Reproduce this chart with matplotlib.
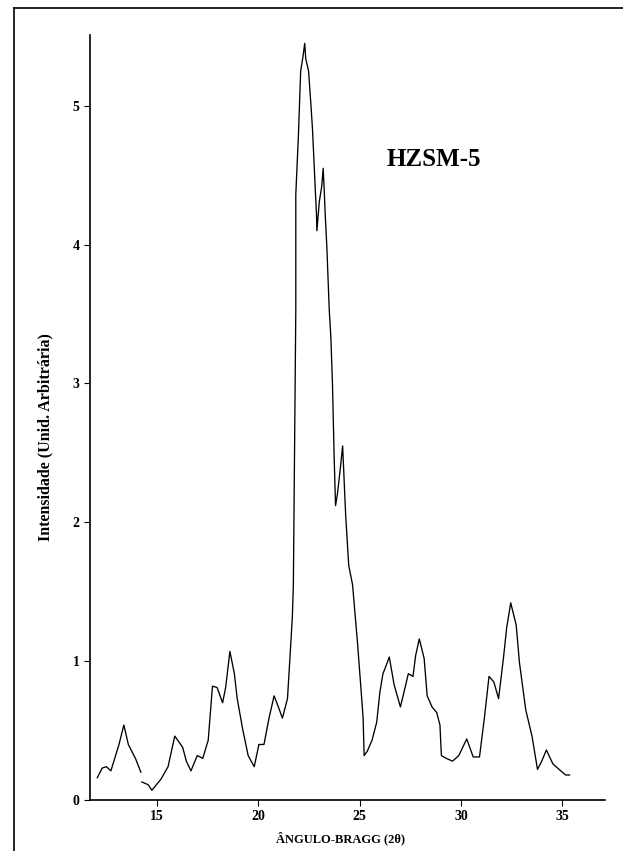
#XRD pattern of HZSM-5 zeolite

import numpy as np
import matplotlib
matplotlib.use("Agg")
import matplotlib.pyplot as plt
from matplotlib.lines import Line2D

plt.rcParams["font.family"] = ["Liberation Serif", "DejaVu Serif"]
plt.rcParams["font.weight"] = "bold"

#Diffractogram (nan = gap in the trace)
two_theta = [
    12.06, 12.30, 12.51, 12.73, 13.13, 13.37, 13.59, 13.94, 14.21, 14.23,
    14.26, 14.57, 14.75, 15.20, 15.55, 15.88, 16.27, 16.45, 16.68, 16.99,
    17.26, 17.53, 17.74, 17.97, 18.24, 18.39, 18.60, 18.82, 18.96, 19.23,
    19.50, 19.80, 20.03, 20.28, 20.53, 20.78, 20.94, 21.19, 21.44, 21.60,
    21.68, 21.73, 21.85, 21.85, 21.98, 22.09, 22.21, 22.29, 22.34, 22.48,
    22.59, 22.67, 22.76, 22.81, 22.87, 22.89, 23.01, 23.13, 23.20, 23.25,
    23.30, 23.38, 23.45, 23.50, 23.58, 23.66, 23.74, 23.81, 23.90, 24.04,
    24.16, 24.31, 24.46, 24.65, 24.90, 25.06, 25.17, 25.22, 25.37, 25.61,
    25.84, 26.00, 26.15, 26.31, 26.46, 26.70, 27.01, 27.24, 27.40, 27.63,
    27.76, 27.94, 28.18, 28.33, 28.57, 28.80, 28.96, 29.03, 29.27, 29.58,
    29.89, 30.28, 30.60, 30.91, 31.15, 31.38, 31.62, 31.85, 32.09, 32.25,
    32.45, 32.72, 32.88, 33.19, 33.50, 33.77, 33.98, 34.21, 34.53, 34.84,
    35.16, 35.35,
]
intensity = [
    0.16, 0.23, 0.24, 0.21, 0.40, 0.54, 0.40, 0.30, 0.20, np.nan,
    0.13, 0.11, 0.07, 0.15, 0.24, 0.46, 0.38, 0.28, 0.21, 0.32,
    0.30, 0.43, 0.82, 0.81, 0.70, 0.81, 1.07, 0.91, 0.73, 0.51,
    0.32, 0.24, 0.40, 0.40, 0.59, 0.75, 0.69, 0.59, 0.73, 1.12,
    1.32, 1.55, 3.53, 4.36, 4.79, 5.25, 5.36, 5.45, 5.34, 5.25,
    5.02, 4.84, 4.56, 4.40, 4.22, 4.10, 4.31, 4.42, 4.55, 4.40,
    4.22, 3.99, 3.72, 3.53, 3.33, 2.99, 2.48, 2.12, 2.20, 2.38,
    2.55, 2.05, 1.69, 1.55, 1.12, 0.81, 0.59, 0.32, 0.35, 0.43,
    0.56, 0.78, 0.91, 0.97, 1.03, 0.83, 0.67, 0.81, 0.91, 0.89,
    1.04, 1.16, 1.02, 0.75, 0.67, 0.63, 0.54, 0.32, 0.30, 0.28,
    0.32, 0.44, 0.31, 0.31, 0.59, 0.89, 0.85, 0.73, 1.02, 1.24,
    1.42, 1.26, 0.99, 0.65, 0.46, 0.22, 0.28, 0.36, 0.26, 0.22,
    0.18, 0.18,
]

x_ticks = [15, 20, 25, 30, 35]
y_ticks = [0, 1, 2, 3, 4, 5]

fig = plt.figure(figsize=(6.23, 8.51), dpi=100)
ax = fig.add_axes([90 / 623, 1 - 800 / 851, 515 / 623, 765 / 851])

ax.plot(two_theta, intensity, color="black", linewidth=0.95)

ax.set_xlim(11.7, 37.1)
ax.set_ylim(0, 5.51)
ax.set_xticks(x_ticks)
ax.set_yticks(y_ticks)
ax.tick_params(direction="out", length=4.5, width=0.8, labelsize=10, pad=3)
for lab in ax.get_xticklabels() + ax.get_yticklabels():
    lab.set_fontweight("bold")

ax.spines["top"].set_visible(False)
ax.spines["right"].set_visible(False)
ax.spines["left"].set_linewidth(1.2)
ax.spines["bottom"].set_linewidth(1.2)

fig.text(434 / 623, 1 - 160 / 851, "HZSM-5", fontsize=18, fontweight="bold",
         ha="center", va="center")
fig.text(340 / 623, 1 - 838 / 851, "ÂNGULO-BRAGG (2θ)", fontsize=9,
         fontweight="bold", ha="center", va="center")
fig.text(45 / 623, 1 - 437 / 851, "Intensidade (Unid. Arbitrária)", fontsize=11.5,
         fontweight="bold", ha="center", va="center", rotation=90)

#Page frame of the scan (left and top edges)
fig.add_artist(Line2D([14 / 623, 14 / 623], [0, 1 - 8 / 851], color="black", linewidth=1.2))
fig.add_artist(Line2D([14 / 623, 1], [1 - 8 / 851, 1 - 8 / 851], color="black", linewidth=1.2))

plt.savefig("out.png", dpi=100)
plt.close()
